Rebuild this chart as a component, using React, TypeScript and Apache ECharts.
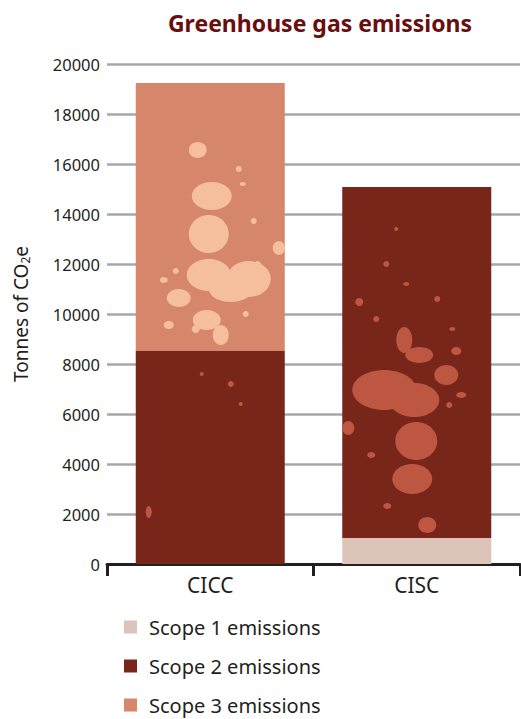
import React, { useEffect, useRef } from "react";
import * as echarts from "echarts";

const categories = ["CICC", "CISC"];
const scope1 = [0, 1040];
const scope2 = [8520, 14040];
const scope3 = [10720, 0];
const seriesNames = ["Scope 1 emissions", "Scope 2 emissions", "Scope 3 emissions"];
const colors = ["#dcc4b9", "#78251a", "#d6876b"];

// decorative texture blobs: [category index, value, x offset from bar centre, rx, ry, tone]
const blobs: number[][] = [
  [0, 16560, -12.5, 9, 8, 0],
  [0, 14720, 1.5, 20, 14, 0],
  [0, 13200, -1.5, 20, 19, 0],
  [0, 11560, -1.5, 22, 16, 0],
  [0, 11400, 38.5, 22, 18, 0],
  [0, 11000, 20.5, 22, 13, 0],
  [0, 12640, 68.5, 6, 7, 0],
  [0, 9760, -3.5, 14, 10, 0],
  [0, 9160, 10.5, 8, 10, 0],
  [0, 10640, -31.5, 12, 9, 0],
  [0, 15800, 28.5, 3, 3, 0],
  [0, 15200, 32.5, 3, 2, 0],
  [0, 13720, 43.5, 3, 3, 0],
  [0, 12000, 47.5, 3, 3, 0],
  [0, 9560, -41.5, 5, 4, 0],
  [0, 11360, -46.5, 4, 3, 0],
  [0, 11720, -34.5, 3, 3, 0],
  [0, 9400, -14.5, 4, 4, 0],
  [0, 10000, 35.5, 3, 3, 0],
  [0, 2080, -61.5, 3, 6, 1],
  [0, 7600, -8.5, 2, 2, 1],
  [0, 7200, 20.5, 3, 3, 1],
  [0, 6400, 30.5, 2, 2, 1],
  [1, 6960, -32.5, 32, 20, 1],
  [1, 6560, -2.5, 25, 17, 1],
  [1, 4920, -0.5, 21, 19, 1],
  [1, 3400, -4.5, 20, 15, 1],
  [1, 1560, 10.5, 9, 8, 1],
  [1, 5440, -68.5, 6, 7, 1],
  [1, 8960, -12.5, 8, 13, 1],
  [1, 8360, 2.5, 14, 8, 1],
  [1, 7560, 29.5, 12, 10, 1],
  [1, 8520, 39.5, 5, 4, 1],
  [1, 6760, 44.5, 5, 3, 1],
  [1, 2320, -29.5, 4, 3, 1],
  [1, 4360, -45.5, 4, 3, 1],
  [1, 10480, -57.5, 4, 4, 1],
  [1, 6360, 32.5, 3, 3, 1],
  [1, 12000, -30.5, 3, 3, 1],
  [1, 11200, -10.5, 3, 2, 1],
  [1, 10600, 20.5, 3, 3, 1],
  [1, 9800, -40.5, 3, 3, 1],
  [1, 13400, -20.5, 2, 2, 1],
  [1, 9400, 35.5, 3, 2, 1],
];
const blobTones = ["#f5be9d", "#bd5741"];

const yTicks = { min: 0, max: 20000, interval: 2000 };
const textColor = "#231f20";
const font = "'Noto Sans', 'Open Sans', sans-serif";

export default function App() {
  const ref = useRef<HTMLDivElement>(null);
  useEffect(() => {
    if (!ref.current) return;
    const chart = echarts.init(ref.current, null, { renderer: "svg" });
    const values = [scope1, scope2, scope3];
    chart.setOption({
      animation: false,
      textStyle: { fontFamily: font },
      title: {
        text: "Greenhouse gas emissions",
        left: 315,
        textAlign: "center",
        top: 6,
        textStyle: { color: "#6b0d0d", fontSize: 23, fontWeight: "bold", fontFamily: font },
      },
      legend: {
        orient: "vertical",
        left: 124,
        top: 617,
        padding: 0,
        itemWidth: 13,
        itemHeight: 13,
        itemGap: 19,
        icon: "rect",
        data: seriesNames,
        textStyle: { color: textColor, fontSize: 20, lineHeight: 20, padding: [0, 0, 0, 7], fontFamily: font },
      },
      grid: { left: 107, right: 1, top: 64, bottom: 155, containLabel: false },
      xAxis: {
        type: "category",
        data: categories,
        axisLine: { lineStyle: { color: textColor, width: 3 } },
        axisTick: { show: true, length: 12, lineStyle: { color: textColor, width: 3 } },
        axisLabel: { color: textColor, fontSize: 21, margin: 10, fontFamily: font },
      },
      yAxis: {
        type: "value",
        min: yTicks.min,
        max: yTicks.max,
        interval: yTicks.interval,
        name: "Tonnes of CO{sub|2}e",
        nameLocation: "middle",
        nameGap: 76,
        nameRotate: 90,
        nameTextStyle: {
          color: textColor,
          fontSize: 19,
          fontFamily: font,
          rich: {
            sub: { fontSize: 12, verticalAlign: "bottom", padding: [8, 0, 0, 0], color: textColor, fontFamily: font },
          },
        },
        axisLine: { show: false },
        axisTick: { show: false },
        axisLabel: { color: textColor, fontSize: 16.5, margin: 7, fontFamily: font, formatter: (v: number) => String(v) },
        splitLine: { lineStyle: { color: "#a7a7aa", width: 2.5 } },
      },
      series: [
        ...seriesNames.map((name, i) => ({
          name,
          type: "bar",
          stack: "total",
          barWidth: 149,
          itemStyle: { color: colors[i] },
          data: values[i],
        })),
        {
          type: "custom",
          silent: true,
          z: 5,
          data: blobs,
          encode: { x: 0, y: 1 },
          renderItem: (params: any, api: any) => {
            const p = api.coord([api.value(0), api.value(1)]);
            return {
              type: "ellipse",
              shape: { cx: p[0] + api.value(2), cy: p[1], rx: api.value(3), ry: api.value(4) },
              style: { fill: blobTones[api.value(5)] },
            };
          },
        },
      ],
    });
    return () => chart.dispose();
  }, []);
  return <div ref={ref} style={{ width: 521, height: 719, position: "absolute", left: 0, top: 0 }} />;
}
